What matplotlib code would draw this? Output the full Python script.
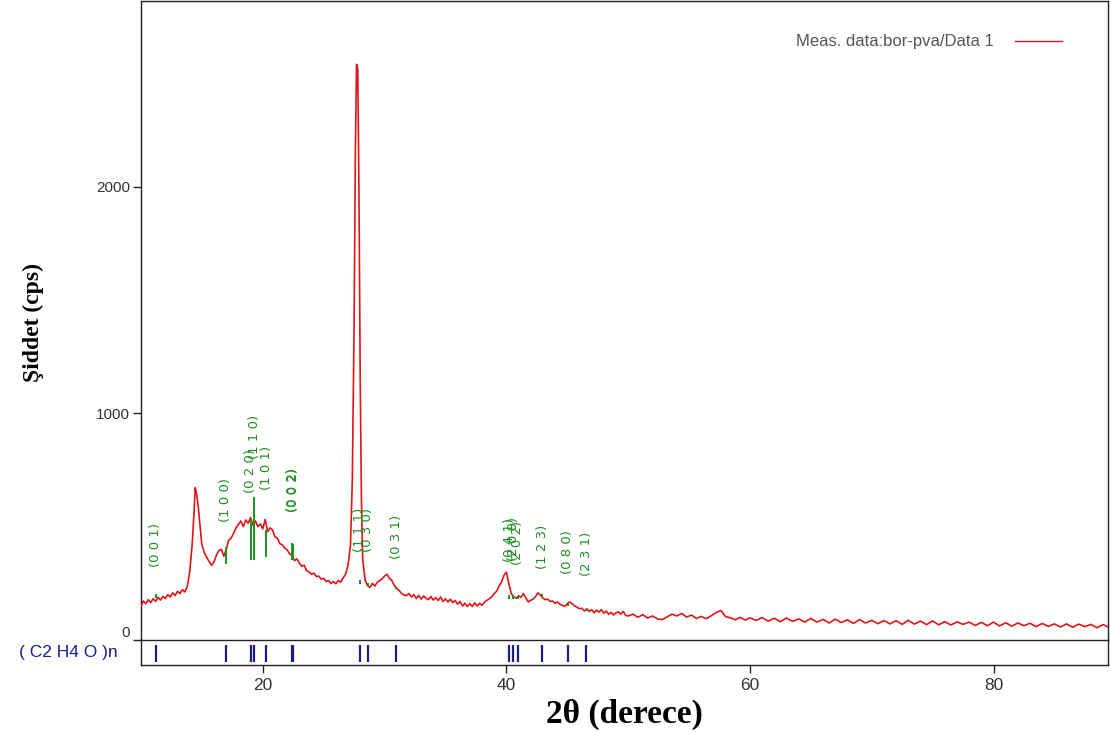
import numpy as np
import matplotlib
matplotlib.use("Agg")
import matplotlib.pyplot as plt

plt.rcParams['font.family'] = ['Liberation Sans', 'DejaVu Sans']

# ---------------- data ----------------
x_a = np.round(np.linspace(10.0, 14.2, 22), 2)
y_a = [150, 172, 160, 178, 165, 182, 170, 188, 176, 192, 183, 200, 190, 208, 196,
       215, 205, 222, 212, 235, 300, 420]
x_pk1 = [14.35, 14.45, 14.55, 14.7]
y_pk1 = [560, 672, 650, 590]
x_b = np.round(np.linspace(14.8, 27.2, 63), 2)
y_b = [530, 420, 385, 365, 345, 330,
       345, 375, 395, 400, 370, 400, 440, 450, 470, 495,
       510, 525, 500, 530, 515, 540, 505, 525, 500, 512,
       490, 532, 478, 495, 485, 455, 450, 425, 420, 405,
       398, 380, 372, 350, 358, 340, 325, 330, 305, 300,
       290, 295, 280, 282, 268, 272, 258, 262, 250, 258,
       248, 262, 255, 275, 290, 330, 420]
x_pk2 = [27.35, 27.5, 27.6, 27.7, 27.8, 27.9, 28.0, 28.1, 28.2]
y_pk2 = [700, 1400, 2150, 2540, 2520, 1950, 1150, 620, 360]
x_c = np.round(np.linspace(28.4, 50.0, 109), 2)
y_c = [265, 240, 232, 250, 238, 255, 262, 270, 282, 290,
       272, 262, 240, 228, 218, 205, 198, 196, 205, 190,
       200, 183, 197, 180, 194, 184, 178, 192, 176, 187,
       174, 190, 170, 182, 168, 180, 165, 174, 158, 170,
       150, 162, 148, 160, 148, 164, 150, 162, 153, 167,
       175, 182, 190, 205, 215, 238, 255, 285, 300, 250,
       205, 190, 185, 195, 188, 205, 185, 168, 175, 180,
       192, 208, 198, 185, 178, 180, 170, 172, 162, 168,
       158, 152, 148, 160, 168, 160, 150, 145, 138, 140,
       128, 138, 126, 134, 120, 132, 123, 134, 118, 128,
       113, 122, 110, 120, 124, 114, 126, 108, 106]
x_d = np.round(np.linspace(50.4, 60.0, 25), 2)
y_d = [114, 100, 112, 97, 106, 93, 90, 102, 114, 106, 117, 101, 110, 95, 104,
       94, 106, 120, 130, 103, 98, 89, 100, 88, 98]
x_e = np.round(np.linspace(60.5, 90.0, 60), 2)
y_e = [86, 99, 83, 96, 81, 97, 82, 93, 79, 95,
       79, 91, 75, 92, 77, 89, 73, 90, 75, 87,
       72, 86, 71, 85, 69, 87, 70, 83, 68, 84,
       67, 81, 66, 80, 69, 79, 64, 78, 63, 79,
       62, 76, 61, 75, 63, 74, 59, 73, 60, 71,
       57, 71, 56, 70, 59, 69, 54, 68, 55, 65]

two_theta = np.concatenate([x_a, x_pk1, x_b, x_pk2, x_c, x_d, x_e])
intensity = np.concatenate([y_a, y_pk1, y_b, y_pk2, y_c, y_d, y_e])

# reference pattern (C2 H4 O)n
ref_pos = [11.2, 16.95, 19.0, 19.3, 20.3, 22.4, 22.5, 27.95, 28.6, 30.95,
           40.25, 40.55, 40.95, 42.95, 45.05, 46.55]
hkl = ["(0 0 1)", "(1 0 0)", "(0 2 0)", "(1 1 0)", "(1 0 1)", "(0 0 2)", "(0 0 2)",
       "(1 1 1)", "(0 3 0)", "(0 3 1)", "(0 4 1)", "(2 0 0)", "(2 0 2)",
       "(1 2 3)", "(0 8 0)", "(2 3 1)"]
stem_low = [185, 335, 355, 355, 365, 355, 355, 245, 240, 225, 180, 180, 182, 190, 150, 130]
stem_high = [205, 410, 535, 630, 485, 430, 425, 265, 252, 232, 200, 198, 196, 205, 160, 138]
label_y = [421, 618, 745, 895, 759, 662, 662, 487, 487, 456, 439, 445, 430, 412, 390, 382]

y_ticks = [0, 1000, 2000]
x_ticks = [20, 40, 60, 80]

# ---------------- figure ----------------
W, H = 1111, 733
fig = plt.figure(figsize=(W / 100, H / 100), dpi=100)
L = 141 / W
R = 1108 / W
ax = fig.add_axes([L, 1 - 640 / H, R - L, 639 / H])
axs = fig.add_axes([L, 1 - 665 / H, R - L, 25 / H], sharex=ax)
axs.patch.set_alpha(0)

red = '#de1519'
ax.plot(two_theta, intensity, color=red, lw=1.2, zorder=3,
        label='Meas. data:bor-pva/Data 1')

green = '#1f8f1f'
ax.vlines(ref_pos, stem_low, stem_high, color=green, lw=1.4, zorder=4)
for xp, lab, ly in zip(ref_pos, hkl, label_y):
    ax.text(xp, ly, lab, rotation=90, ha='center', va='center',
            color=green, fontsize=9.5, family='DejaVu Sans', zorder=5)

ax.set_xlim(10, 89.4)
ax.set_ylim(0, 2819)
ax.set_yticks(y_ticks)
ax.tick_params(axis='y', direction='out', length=6, width=1, color='#222',
               labelsize=11, labelcolor='#333', pad=2)
ax.tick_params(axis='x', bottom=False, labelbottom=False)
for s in ax.spines.values():
    s.set_color('#222')
    s.set_linewidth(1.0)
ax.spines['bottom'].set_zorder(10)
ax.yaxis.get_major_ticks()[0].label1.set_verticalalignment('bottom')

leg = ax.legend(loc='center right', bbox_to_anchor=(0.9525, 0.936), frameon=False,
                markerfirst=False, handlelength=2.8, handletextpad=1.3,
                borderpad=0, borderaxespad=0, fontsize=12, labelcolor='#555')
for h in leg.get_lines():
    h.set_linewidth(1.0)

# reference strip
navy = '#1c1c8a'
axs.vlines(ref_pos, 0.12, 0.8, color=navy, lw=1.6)
axs.set_ylim(0, 1)
axs.set_yticks([])
axs.set_xticks(x_ticks)
axs.tick_params(axis='x', direction='out', length=6, width=1, color='#222',
                labelsize=12.5, labelcolor='#333', pad=3)
axs.spines['top'].set_visible(False)
for s in axs.spines.values():
    s.set_color('#222')
    s.set_linewidth(1.0)
axs.text(-0.024, 0.5, '( C2 H4 O )n', transform=axs.transAxes, ha='right',
         va='center', color=navy, fontsize=12.5)

fig.text(33 / W, 1 - 322 / H, 'Şiddet (cps)', rotation=90, ha='center', va='center',
         family='Liberation Serif', fontweight='bold', fontsize=17)
fig.text(624 / W, 1 - 714 / H, '2θ (derece)', ha='center', va='center',
         family='Liberation Serif', fontweight='bold', fontsize=24)

fig.savefig('out.png', dpi=100)
